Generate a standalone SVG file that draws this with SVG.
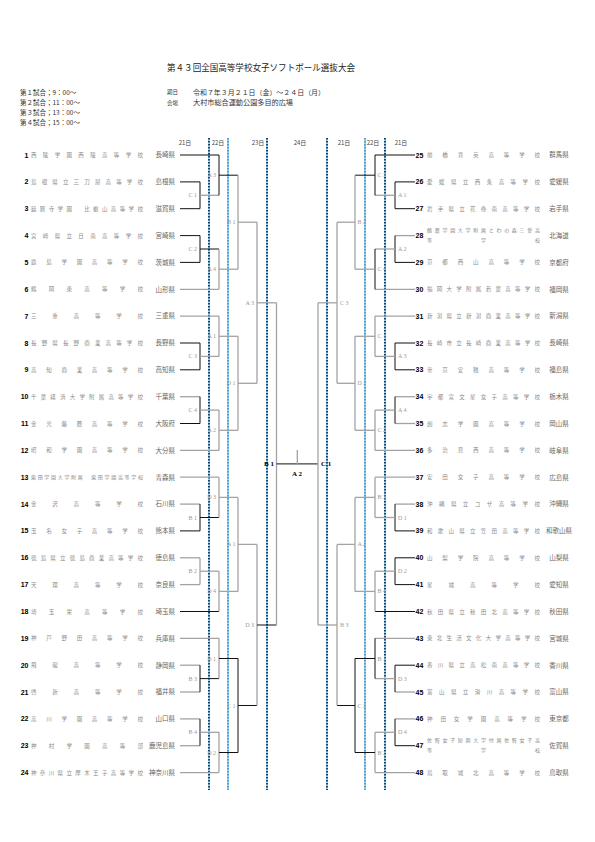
<svg xmlns="http://www.w3.org/2000/svg" width="595" height="842" viewBox="0 0 595 842">
<style>
text{font-family:"Noto Sans CJK JP","Noto Sans CJK SC",sans-serif}
.ti{font-size:9px;fill:#222}
.h{font-size:6.5px;fill:#333}
.hs{font-size:5.5px;fill:#333}
.d{font-size:6px;fill:#444;text-anchor:middle}
.n{font-family:"Liberation Sans",Arial,sans-serif;font-weight:bold;font-size:7px;fill:#000}
.nl{text-anchor:end}
.s{font-size:5.5px;fill:#8a8a8a}
.s2{font-size:5px;fill:#8a8a8a}
.p{font-size:6.5px;fill:#666}
.pl{text-anchor:end}
.pr{text-anchor:middle}
.lb{font-family:"Liberation Serif",serif;font-size:6px;fill:#999}
.le{text-anchor:end}
.fb{font-family:"Liberation Serif",serif;font-size:7px;font-weight:bold;fill:#000}
.k{stroke:#111;stroke-width:1;fill:none}
.g{stroke:#a3a3a3;stroke-width:1.3;fill:none}
.dl{stroke:#8fd6f2;stroke-width:2}
.dd{stroke:#0a1f4d;stroke-width:1.6;stroke-dasharray:1.5 1.5}
.dd2{stroke:#3a5f9d;stroke-width:1;stroke-dasharray:1.5 1.5}
</style>
<rect width="595" height="842" fill="#fff"/>
<g id="header">
<text class="ti" x="167" y="71" textLength="188" lengthAdjust="spacingAndGlyphs">第４３回全国高等学校女子ソフトボール選抜大会</text>
<text class="h" x="20" y="94.5">第１試合；9：00～</text>
<text class="h" x="20" y="105">第２試合；11：00～</text>
<text class="h" x="20" y="115">第３試合；13：00～</text>
<text class="h" x="20" y="125">第４試合；15：00～</text>
<text class="hs" x="167" y="94">期日</text>
<text class="h" x="193" y="94.5" textLength="132" lengthAdjust="spacingAndGlyphs">令和７年３月２１日（金）～２４日（月）</text>
<text class="hs" x="167" y="104.5">会場</text>
<text class="h" x="193" y="105" textLength="100" lengthAdjust="spacingAndGlyphs">大村市総合運動公園多目的広場</text>
<text class="d" x="185" y="145">21日</text>
<text class="d" x="218" y="145">22日</text>
<text class="d" x="258" y="145">23日</text>
<text class="d" x="300" y="145">24日</text>
<text class="d" x="344" y="145">21日</text>
<text class="d" x="373" y="145">22日</text>
<text class="d" x="401" y="145">21日</text>
</g>
<g id="daylines">
<path class="dl" d="M209 138V790M228 138V790M267 138V790M327 138V790M365 138V790M385 138V790"/>
<path class="dd" d="M209 138V790M267 138V790M327 138V790M385 138V790"/>
<path class="dd2" d="M228 138V790M365 138V790"/>
</g>
<g id="connectors">
<path class="k" d="M180 155H219"/><path class="k" d="M180 181.9H200"/><path class="k" d="M180 208.7H200"/><path class="k" d="M180 235.6H200"/><path class="k" d="M180 262.4H200"/><path class="g" d="M180 289.3H219"/><path class="g" d="M180 316.1H219"/><path class="k" d="M180 343H200"/><path class="k" d="M180 369.8H200"/><path class="g" d="M180 396.7H200"/><path class="k" d="M180 423.5H200"/><path class="g" d="M180 450.4H219"/><path class="g" d="M180 477.2H219"/><path class="g" d="M180 504.1H200"/><path class="k" d="M180 530.9H200"/><path class="g" d="M180 557.8H200"/><path class="g" d="M180 584.6H200"/><path class="k" d="M180 611.5H219"/><path class="g" d="M180 638.3H219"/><path class="g" d="M180 665.2H200"/><path class="g" d="M180 692H200"/><path class="g" d="M180 718.9H200"/><path class="g" d="M180 745.7H200"/><path class="g" d="M180 772.6H219"/>
<path class="k" d="M200 181.9V208.7"/><path class="g" d="M200 195.3H219"/>
<path class="k" d="M200 235.6V262.4"/><path class="k" d="M200 249H219"/>
<path class="k" d="M200 343V369.8"/><path class="g" d="M200 356.4H219"/>
<path class="k" d="M200 396.7V423.5"/><path class="g" d="M200 410.1H219"/>
<path class="k" d="M200 504.1V530.9"/><path class="k" d="M200 517.5H219"/>
<path class="g" d="M200 557.8V584.6"/><path class="g" d="M200 571.2H219"/>
<path class="k" d="M200 665.2V692"/><path class="k" d="M200 678.6H219"/>
<path class="k" d="M200 718.9V745.7"/><path class="g" d="M200 732.3H219"/>
<path class="k" d="M219 155V195.3"/><path class="k" d="M219 175.2H238"/>
<path class="g" d="M219 249V289.3"/><path class="g" d="M219 269.2H238"/>
<path class="g" d="M219 316.1V356.4"/><path class="g" d="M219 336.3H238"/>
<path class="g" d="M219 410.1V450.4"/><path class="g" d="M219 430.3H238"/>
<path class="g" d="M219 477.2V517.5"/><path class="g" d="M219 497.4H238"/>
<path class="g" d="M219 571.2V611.5"/><path class="g" d="M219 591.4H238"/>
<path class="g" d="M219 638.3V678.6"/><path class="k" d="M219 658.5H238"/>
<path class="g" d="M219 732.3V772.6"/><path class="k" d="M219 752.5H238"/>
<path class="g" d="M238 175.2V269.2"/><path class="g" d="M238 222.2H257"/>
<path class="g" d="M238 336.3V430.3"/><path class="g" d="M238 383.3H257"/>
<path class="g" d="M238 497.4V591.4"/><path class="g" d="M238 544.4H257"/>
<path class="k" d="M238 658.5V752.5"/><path class="k" d="M238 705.5H257"/>
<path class="g" d="M257 222.2V383.3"/><path class="g" d="M257 302.8H276.5"/>
<path class="g" d="M257 544.4V705.5"/><path class="k" d="M257 625H276.5"/>
<path class="g" d="M276.5 302.8V625"/>
<path class="k" d="M276.5 463.9H318"/>
<path class="g" d="M297.3 450V463.9"/>
<path class="k" d="M375 155H415"/><path class="k" d="M395 181.9H415"/><path class="k" d="M395 208.7H415"/><path class="g" d="M395 235.6H415"/><path class="k" d="M395 262.4H415"/><path class="g" d="M375 289.3H415"/><path class="g" d="M375 316.1H415"/><path class="k" d="M395 343H415"/><path class="k" d="M395 369.8H415"/><path class="g" d="M395 396.7H415"/><path class="g" d="M395 423.5H415"/><path class="g" d="M375 450.4H415"/><path class="g" d="M375 477.2H415"/><path class="g" d="M395 504.1H415"/><path class="k" d="M395 530.9H415"/><path class="k" d="M395 557.8H415"/><path class="k" d="M395 584.6H415"/><path class="k" d="M375 611.5H415"/><path class="g" d="M375 638.3H415"/><path class="k" d="M395 665.2H415"/><path class="g" d="M395 692H415"/><path class="g" d="M395 718.9H415"/><path class="k" d="M395 745.7H415"/><path class="g" d="M375 772.6H415"/>
<path class="k" d="M395 181.9V208.7"/><path class="g" d="M375 195.3H395"/>
<path class="k" d="M395 235.6V262.4"/><path class="g" d="M375 249H395"/>
<path class="k" d="M395 343V369.8"/><path class="g" d="M375 356.4H395"/>
<path class="k" d="M395 396.7V423.5"/><path class="g" d="M375 410.1H395"/>
<path class="k" d="M395 504.1V530.9"/><path class="g" d="M375 517.5H395"/>
<path class="k" d="M395 557.8V584.6"/><path class="g" d="M375 571.2H395"/>
<path class="k" d="M395 665.2V692"/><path class="g" d="M375 678.6H395"/>
<path class="k" d="M395 718.9V745.7"/><path class="g" d="M375 732.3H395"/>
<path class="k" d="M375 155V195.3"/><path class="k" d="M355 175.2H375"/>
<path class="k" d="M375 249V289.3"/><path class="g" d="M355 269.2H375"/>
<path class="g" d="M375 316.1V356.4"/><path class="g" d="M355 336.3H375"/>
<path class="g" d="M375 410.1V450.4"/><path class="g" d="M355 430.3H375"/>
<path class="g" d="M375 477.2V517.5"/><path class="g" d="M355 497.4H375"/>
<path class="g" d="M375 571.2V611.5"/><path class="g" d="M355 591.4H375"/>
<path class="k" d="M375 638.3V678.6"/><path class="k" d="M355 658.5H375"/>
<path class="g" d="M375 732.3V772.6"/><path class="k" d="M355 752.5H375"/>
<path class="g" d="M355 175.2V269.2"/><path class="g" d="M337 222.2H355"/>
<path class="g" d="M355 336.3V430.3"/><path class="g" d="M337 383.3H355"/>
<path class="g" d="M355 497.4V591.4"/><path class="g" d="M337 544.4H355"/>
<path class="k" d="M355 658.5V752.5"/><path class="k" d="M337 705.5H355"/>
<path class="g" d="M337 222.2V383.3"/><path class="g" d="M318 302.8H337"/>
<path class="g" d="M337 544.4V705.5"/><path class="g" d="M318 625H337"/>
<path class="g" d="M318 302.8V625"/>
</g>
<g id="match-labels">
<text class="lb le" x="197" y="197.3">C 1</text><text class="lb le" x="197" y="251">C 2</text><text class="lb le" x="197" y="358.4">C 3</text><text class="lb le" x="197" y="412.1">C 4</text><text class="lb le" x="197" y="519.5">B 1</text><text class="lb le" x="197" y="573.2">B 2</text><text class="lb le" x="197" y="680.6">B 3</text><text class="lb le" x="197" y="734.3">B 4</text>
<text class="lb le" x="216" y="177.2">A 3</text><text class="lb le" x="216" y="271.2">A 4</text><text class="lb le" x="216" y="338.3">A 1</text><text class="lb le" x="216" y="432.3">A 2</text><text class="lb le" x="216" y="499.4">D 3</text><text class="lb le" x="216" y="593.4">D 4</text><text class="lb le" x="216" y="660.5">D 1</text><text class="lb le" x="216" y="754.5">D 2</text>
<text class="lb le" x="235.5" y="224.2">B 1</text><text class="lb le" x="235.5" y="385.3">D 1</text><text class="lb le" x="235.5" y="546.4">A 1</text><text class="lb le" x="235.5" y="707.5">C 1</text>
<text class="lb le" x="254" y="304.8">A 3</text><text class="lb le" x="254" y="627">D 3</text>
<text class="fb le" x="274" y="466.4">B 1</text>
<text class="fb" x="297" y="475.5" text-anchor="middle">A 2</text>
<text class="fb" x="321" y="466.4">C 1</text>
<text class="lb" x="398" y="197.3">A 1</text><text class="lb" x="398" y="251">A 2</text><text class="lb" x="398" y="358.4">A 3</text><text class="lb" x="398" y="412.1">A 4</text><text class="lb" x="398" y="519.5">D 1</text><text class="lb" x="398" y="573.2">D 2</text><text class="lb" x="398" y="680.6">D 3</text><text class="lb" x="398" y="734.3">D 4</text>
<text class="lb" x="377.5" y="177.2">C 3</text><text class="lb" x="377.5" y="271.2">C 4</text><text class="lb" x="377.5" y="338.3">C 1</text><text class="lb" x="377.5" y="432.3">C 2</text><text class="lb" x="377.5" y="499.4">B 3</text><text class="lb" x="377.5" y="593.4">B 4</text><text class="lb" x="377.5" y="660.5">B 1</text><text class="lb" x="377.5" y="754.5">B 2</text>
<text class="lb" x="357.5" y="224.2">B 2</text><text class="lb" x="357.5" y="385.3">D 2</text><text class="lb" x="357.5" y="546.4">A 2</text><text class="lb" x="357.5" y="707.5">C 2</text>
<text class="lb" x="340" y="304.8">C 3</text><text class="lb" x="340" y="627">B 3</text>
</g>
<g id="t1"><text class="n nl" x="28.5" y="157.5">1</text><text class="s" x="31" y="157" textLength="112" lengthAdjust="spacing">西陵学園西陵高等学校</text><text class="p pl" x="175" y="157.3">長崎県</text></g>
<g id="t2"><text class="n nl" x="28.5" y="184.4">2</text><text class="s" x="31" y="183.9" textLength="112" lengthAdjust="spacing">島根県立三刀屋高等学校</text><text class="p pl" x="175" y="184.2">島根県</text></g>
<g id="t3"><text class="n nl" x="28.5" y="211.2">3</text><text class="s" x="31" y="210.7" textLength="112" lengthAdjust="spacing">延暦寺学園　比叡山高等学校</text><text class="p pl" x="175" y="211">滋賀県</text></g>
<g id="t4"><text class="n nl" x="28.5" y="238.1">4</text><text class="s" x="31" y="237.6" textLength="112" lengthAdjust="spacing">宮崎県立日南高等学校</text><text class="p pl" x="175" y="237.9">宮崎県</text></g>
<g id="t5"><text class="n nl" x="28.5" y="264.9">5</text><text class="s" x="31" y="264.4" textLength="112" lengthAdjust="spacing">鹿島学園高等学校</text><text class="p pl" x="175" y="264.7">茨城県</text></g>
<g id="t6"><text class="n nl" x="28.5" y="291.8">6</text><text class="s" x="31" y="291.3" textLength="112" lengthAdjust="spacing">鶴岡東高等学校</text><text class="p pl" x="175" y="291.6">山形県</text></g>
<g id="t7"><text class="n nl" x="28.5" y="318.6">7</text><text class="s" x="31" y="318.1" textLength="112" lengthAdjust="spacing">三重高等学校</text><text class="p pl" x="175" y="318.4">三重県</text></g>
<g id="t8"><text class="n nl" x="28.5" y="345.5">8</text><text class="s" x="31" y="345" textLength="112" lengthAdjust="spacing">長野県長野商業高等学校</text><text class="p pl" x="175" y="345.3">長野県</text></g>
<g id="t9"><text class="n nl" x="28.5" y="372.3">9</text><text class="s" x="31" y="371.8" textLength="112" lengthAdjust="spacing">高知商業高等学校</text><text class="p pl" x="175" y="372.1">高知県</text></g>
<g id="t10"><text class="n nl" x="28.5" y="399.2">10</text><text class="s" x="31" y="398.7" textLength="112" lengthAdjust="spacing">千葉経済大学附属高等学校</text><text class="p pl" x="175" y="399">千葉県</text></g>
<g id="t11"><text class="n nl" x="28.5" y="426">11</text><text class="s" x="31" y="425.5" textLength="112" lengthAdjust="spacing">金光藤蔭高等学校</text><text class="p pl" x="175" y="425.8">大阪府</text></g>
<g id="t12"><text class="n nl" x="28.5" y="452.9">12</text><text class="s" x="31" y="452.4" textLength="112" lengthAdjust="spacing">昭和学園高等学校</text><text class="p pl" x="175" y="452.7">大分県</text></g>
<g id="t13"><text class="n nl" x="28.5" y="479.7">13</text><text class="s2" x="31" y="479.1" textLength="112" lengthAdjust="spacing">柴田学園大学附属　柴田学園高等学校</text><text class="p pl" x="175" y="479.5">青森県</text></g>
<g id="t14"><text class="n nl" x="28.5" y="506.6">14</text><text class="s" x="31" y="506.1" textLength="112" lengthAdjust="spacing">金沢高等学校</text><text class="p pl" x="175" y="506.4">石川県</text></g>
<g id="t15"><text class="n nl" x="28.5" y="533.4">15</text><text class="s" x="31" y="532.9" textLength="112" lengthAdjust="spacing">玉名女子高等学校</text><text class="p pl" x="175" y="533.2">熊本県</text></g>
<g id="t16"><text class="n nl" x="28.5" y="560.3">16</text><text class="s" x="31" y="559.8" textLength="112" lengthAdjust="spacing">徳島県立徳島商業高等学校</text><text class="p pl" x="175" y="560.1">徳島県</text></g>
<g id="t17"><text class="n nl" x="28.5" y="587.1">17</text><text class="s" x="31" y="586.6" textLength="112" lengthAdjust="spacing">天理高等学校</text><text class="p pl" x="175" y="586.9">奈良県</text></g>
<g id="t18"><text class="n nl" x="28.5" y="614">18</text><text class="s" x="31" y="613.5" textLength="112" lengthAdjust="spacing">埼玉栄高等学校</text><text class="p pl" x="175" y="613.8">埼玉県</text></g>
<g id="t19"><text class="n nl" x="28.5" y="640.8">19</text><text class="s" x="31" y="640.3" textLength="112" lengthAdjust="spacing">神戸野田高等学校</text><text class="p pl" x="175" y="640.6">兵庫県</text></g>
<g id="t20"><text class="n nl" x="28.5" y="667.7">20</text><text class="s" x="31" y="667.2" textLength="112" lengthAdjust="spacing">飛龍高等学校</text><text class="p pl" x="175" y="667.5">静岡県</text></g>
<g id="t21"><text class="n nl" x="28.5" y="694.5">21</text><text class="s" x="31" y="694" textLength="112" lengthAdjust="spacing">啓新高等学校</text><text class="p pl" x="175" y="694.3">福井県</text></g>
<g id="t22"><text class="n nl" x="28.5" y="721.4">22</text><text class="s" x="31" y="720.9" textLength="112" lengthAdjust="spacing">高川学園高等学校</text><text class="p pl" x="175" y="721.2">山口県</text></g>
<g id="t23"><text class="n nl" x="28.5" y="748.2">23</text><text class="s" x="31" y="747.7" textLength="112" lengthAdjust="spacing">神村学園高等部</text><text class="p pl" x="175" y="748">鹿児島県</text></g>
<g id="t24"><text class="n nl" x="28.5" y="775.1">24</text><text class="s" x="31" y="774.6" textLength="112" lengthAdjust="spacing">神奈川県立厚木王子高等学校</text><text class="p pl" x="175" y="774.9">神奈川県</text></g>
<g id="t25"><text class="n" x="415.5" y="157.5">25</text><text class="s" x="427" y="157" textLength="113" lengthAdjust="spacing">前橋育英高等学校</text><text class="p pr" x="559" y="157.3">群馬県</text></g>
<g id="t26"><text class="n" x="415.5" y="184.4">26</text><text class="s" x="427" y="183.9" textLength="113" lengthAdjust="spacing">愛媛県立西条高等学校</text><text class="p pr" x="559" y="184.2">愛媛県</text></g>
<g id="t27"><text class="n" x="415.5" y="211.2">27</text><text class="s" x="427" y="210.7" textLength="113" lengthAdjust="spacing">岩手県立花巻南高等学校</text><text class="p pr" x="559" y="211">岩手県</text></g>
<g id="t28"><text class="n" x="415.5" y="238.1">28</text><text class="s2" x="427" y="232.3" textLength="113" lengthAdjust="spacing">酪農学園大学附属とわの森三愛高</text><text class="s2" x="427" y="241.8" textLength="113" lengthAdjust="spacing">等学校</text><text class="p pr" x="559" y="237.9">北海道</text></g>
<g id="t29"><text class="n" x="415.5" y="264.9">29</text><text class="s" x="427" y="264.4" textLength="113" lengthAdjust="spacing">京都西山高等学校</text><text class="p pr" x="559" y="264.7">京都府</text></g>
<g id="t30"><text class="n" x="415.5" y="291.8">30</text><text class="s" x="427" y="291.3" textLength="113" lengthAdjust="spacing">福岡大学附属若葉高等学校</text><text class="p pr" x="559" y="291.6">福岡県</text></g>
<g id="t31"><text class="n" x="415.5" y="318.6">31</text><text class="s" x="427" y="318.1" textLength="113" lengthAdjust="spacing">新潟県立新潟商業高等学校</text><text class="p pr" x="559" y="318.4">新潟県</text></g>
<g id="t32"><text class="n" x="415.5" y="345.5">32</text><text class="s" x="427" y="345" textLength="113" lengthAdjust="spacing">長崎市立長崎商業高等学校</text><text class="p pr" x="559" y="345.3">長崎県</text></g>
<g id="t33"><text class="n" x="415.5" y="372.3">33</text><text class="s" x="427" y="371.8" textLength="113" lengthAdjust="spacing">帝京安積高等学校</text><text class="p pr" x="559" y="372.1">福島県</text></g>
<g id="t34"><text class="n" x="415.5" y="399.2">34</text><text class="s" x="427" y="398.7" textLength="113" lengthAdjust="spacing">宇都宮文星女子高等学校</text><text class="p pr" x="559" y="399">栃木県</text></g>
<g id="t35"><text class="n" x="415.5" y="426">35</text><text class="s" x="427" y="425.5" textLength="113" lengthAdjust="spacing">創志学園高等学校</text><text class="p pr" x="559" y="425.8">岡山県</text></g>
<g id="t36"><text class="n" x="415.5" y="452.9">36</text><text class="s" x="427" y="452.4" textLength="113" lengthAdjust="spacing">多治見西高等学校</text><text class="p pr" x="559" y="452.7">岐阜県</text></g>
<g id="t37"><text class="n" x="415.5" y="479.7">37</text><text class="s" x="427" y="479.2" textLength="113" lengthAdjust="spacing">安田女子高等学校</text><text class="p pr" x="559" y="479.5">広島県</text></g>
<g id="t38"><text class="n" x="415.5" y="506.6">38</text><text class="s" x="427" y="506.1" textLength="113" lengthAdjust="spacing">沖縄県立コザ高等学校</text><text class="p pr" x="559" y="506.4">沖縄県</text></g>
<g id="t39"><text class="n" x="415.5" y="533.4">39</text><text class="s" x="427" y="532.9" textLength="113" lengthAdjust="spacing">和歌山県立笠田高等学校</text><text class="p pr" x="559" y="533.2">和歌山県</text></g>
<g id="t40"><text class="n" x="415.5" y="560.3">40</text><text class="s" x="427" y="559.8" textLength="113" lengthAdjust="spacing">山梨学院高等学校</text><text class="p pr" x="559" y="560.1">山梨県</text></g>
<g id="t41"><text class="n" x="415.5" y="587.1">41</text><text class="s" x="427" y="586.6" textLength="113" lengthAdjust="spacing">星城高等学校</text><text class="p pr" x="559" y="586.9">愛知県</text></g>
<g id="t42"><text class="n" x="415.5" y="614">42</text><text class="s" x="427" y="613.5" textLength="113" lengthAdjust="spacing">秋田県立秋田北高等学校</text><text class="p pr" x="559" y="613.8">秋田県</text></g>
<g id="t43"><text class="n" x="415.5" y="640.8">43</text><text class="s" x="427" y="640.3" textLength="113" lengthAdjust="spacing">東北生活文化大学高等学校</text><text class="p pr" x="559" y="640.6">宮城県</text></g>
<g id="t44"><text class="n" x="415.5" y="667.7">44</text><text class="s" x="427" y="667.2" textLength="113" lengthAdjust="spacing">香川県立高松南高等学校</text><text class="p pr" x="559" y="667.5">香川県</text></g>
<g id="t45"><text class="n" x="415.5" y="694.5">45</text><text class="s" x="427" y="694" textLength="113" lengthAdjust="spacing">富山県立滑川高等学校</text><text class="p pr" x="559" y="694.3">富山県</text></g>
<g id="t46"><text class="n" x="415.5" y="721.4">46</text><text class="s" x="427" y="720.9" textLength="113" lengthAdjust="spacing">神田女学園高等学校</text><text class="p pr" x="559" y="721.2">東京都</text></g>
<g id="t47"><text class="n" x="415.5" y="748.2">47</text><text class="s2" x="427" y="742.3" textLength="113" lengthAdjust="spacing">佐賀女子短期大学付属佐賀女子高</text><text class="s2" x="427" y="751.8" textLength="113" lengthAdjust="spacing">等学校</text><text class="p pr" x="559" y="748">佐賀県</text></g>
<g id="t48"><text class="n" x="415.5" y="775.1">48</text><text class="s" x="427" y="774.6" textLength="113" lengthAdjust="spacing">鳥取城北高等学校</text><text class="p pr" x="559" y="774.9">鳥取県</text></g>
</svg>
